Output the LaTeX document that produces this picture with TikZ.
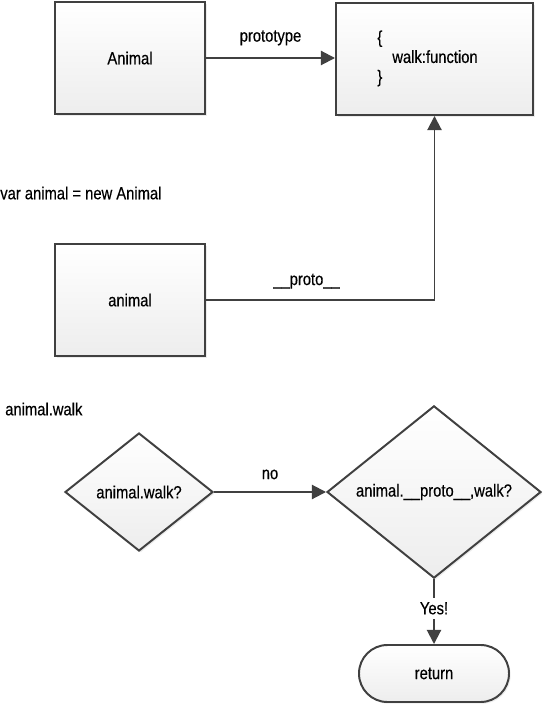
\documentclass[tikz,border=0pt]{standalone}
\usepackage{fontspec}
\setmainfont{Liberation Sans}[FakeStretch=0.84, FakeBold=0.35]
\usetikzlibrary{arrows.meta,shapes.geometric,shadows}
\definecolor{edgegray}{HTML}{404040}

\begin{document}
\begin{tikzpicture}[x=0.25mm, y=-0.25mm, font=\fontsize{12.5}{14}\selectfont,
  shadebox/.style={draw=edgegray, line width=1.4pt, top color=white, bottom color=black!7,
    drop shadow={shadow xshift=1.2pt, shadow yshift=-1.2pt, opacity=0.15}},
  objbox/.style={shadebox, rectangle, minimum width=37.5mm, minimum height=28mm},
  decision/.style={shadebox, diamond, inner sep=0pt},
  link/.style={draw=edgegray, line width=1.4pt, -{Triangle[length=10pt, width=10pt]}}]
  \useasboundingbox (0, 0) rectangle (548, 706);

  \node[objbox] (Animal) at (130, 58) {Animal};
  \node[objbox, minimum width=49.25mm] (proto) at (434.5, 59) {\begin{tabular}{@{}l@{\hspace{3.5mm}}}\{\\\hspace*{3.75mm}walk:function\\\}\end{tabular}};
  \node[objbox] (animal) at (130, 300) {animal};
  \draw[link] (Animal) -- (Animal -| proto.west) node[midway, above=5pt] {prototype};
  \draw[link] (animal.east) -| (proto.south) node[pos=0.22, above=4pt] {\_\_proto\_\_};

  \node[anchor=west, inner sep=0pt] (newline) at (0, 193) {var animal = new Animal};
  \node[anchor=west, inner sep=0pt] (walkline) at (5, 409) {animal.walk};

  \node[decision, minimum width=37mm, minimum height=29.5mm] (hasWalk) at (139, 492) {animal.walk?};
  \node[decision, minimum width=53.5mm, minimum height=42.25mm] (protoWalk) at (434, 492) {animal.\_\_proto\_\_,walk?};
  \node[shadebox, rectangle, rounded corners=7.1mm, minimum width=37.5mm, minimum height=14.25mm] (return) at (434, 673.5) {return};
  \draw[link] (hasWalk) -- (protoWalk) node[midway, above=5pt] {no};
  \draw[link] (protoWalk) -- (return) node[pos=0.45, fill=white] {Yes!};
\end{tikzpicture}
\end{document}
